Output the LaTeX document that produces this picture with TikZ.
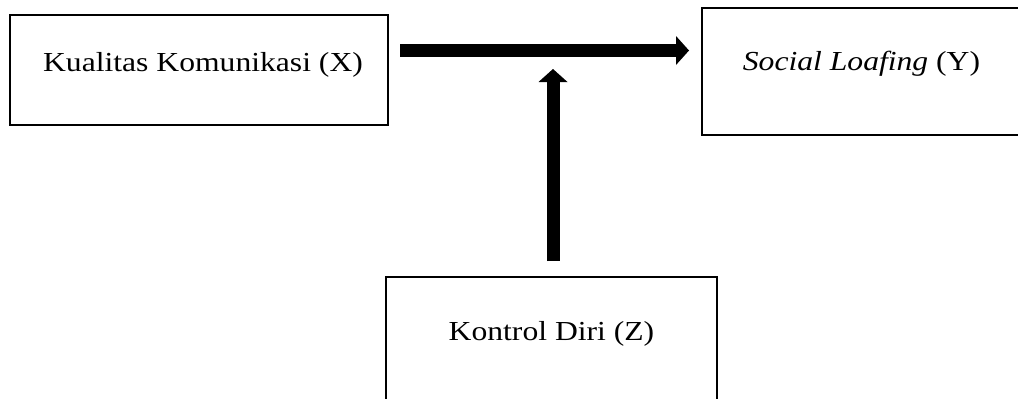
\documentclass[tikz,border=0pt]{standalone}
\usepackage{fontspec}
\setmainfont{Liberation Serif}[FakeStretch=1.15]
\usetikzlibrary{arrows.meta}
\tikzset{
  box/.style={draw=black, line width=2pt, rectangle, inner sep=0pt},
  lbl/.style={anchor=base, inner sep=0pt, font=\fontsize{27.5}{33}\selectfont},
  fat/.style={line width=13pt, -{Triangle[length=13pt,width=29pt,line width=0pt]}}
}
\begin{document}
\begin{tikzpicture}[x=1pt,y=-1pt]
\useasboundingbox (0,0) rectangle (1018,399);
\clip (0,0) rectangle (1018,399);
\node[box, minimum width=378pt, minimum height=110pt] (X) at (199,70) {};
\node[box, minimum width=328pt, minimum height=127pt] (Y) at (866,71.5) {};
\node[box, minimum width=331pt, minimum height=133pt] (Z) at (551.5,343.5) {};
\node[lbl] (tx) at (203,71) {Kualitas Komunikasi (X)};
\node[lbl] (ty) at (861.5,70) {\textit{Social Loafing} (Y)};
\node[lbl] (tz) at (551.5,340) {Kontrol Diri (Z)};
\coordinate (h1) at (400,50.5);
\coordinate (h2) at (689,50.5);
\coordinate (v1) at (553,261);
\coordinate (v2) at (553,69);
\draw[fat] (h1) -- (h2);
\draw[fat] (v1) -- (v2);
\end{tikzpicture}
\end{document}
